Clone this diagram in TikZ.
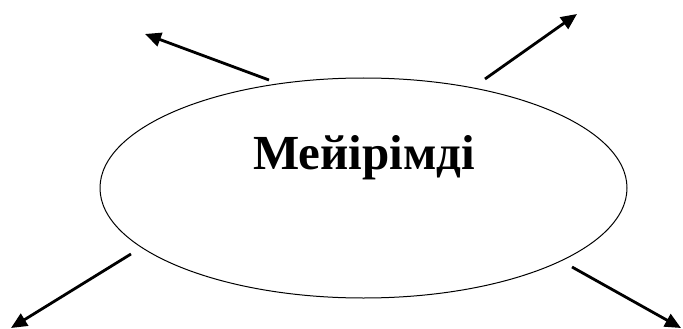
\documentclass[tikz,border=0pt]{standalone}
\usepackage{fontspec}
\setmainfont{Liberation Serif}
\usetikzlibrary{shapes.geometric,arrows.meta}
\tikzset{
  bubble/.style={draw, ellipse, line width=1pt, inner sep=0pt, minimum width=527pt, minimum height=220pt},
  label/.style={font=\fontsize{49}{56}\selectfont\bfseries, inner sep=0pt},
  arr/.style={line width=2.8pt, -{Triangle[length=16pt,width=14pt]}}
}
\begin{document}
\begin{tikzpicture}[x=1pt,y=-1pt]
\useasboundingbox (0,0) rectangle (683,329);
\node[bubble] (e) at (363.5,188) {};
\node[label, anchor=base] (t) at (364,169) {Мейірімді};
\coordinate (a1) at (269,80);
\coordinate (b1) at (145,34);
\coordinate (a2) at (485,79);
\coordinate (b2) at (577,14);
\coordinate (a3) at (131,254);
\coordinate (b3) at (11,328);
\coordinate (a4) at (572,267);
\coordinate (b4) at (681,328);
\draw[arr] (a1) -- (b1);
\draw[arr] (a2) -- (b2);
\draw[arr] (a3) -- (b3);
\draw[arr] (a4) -- (b4);
\end{tikzpicture}
\end{document}
